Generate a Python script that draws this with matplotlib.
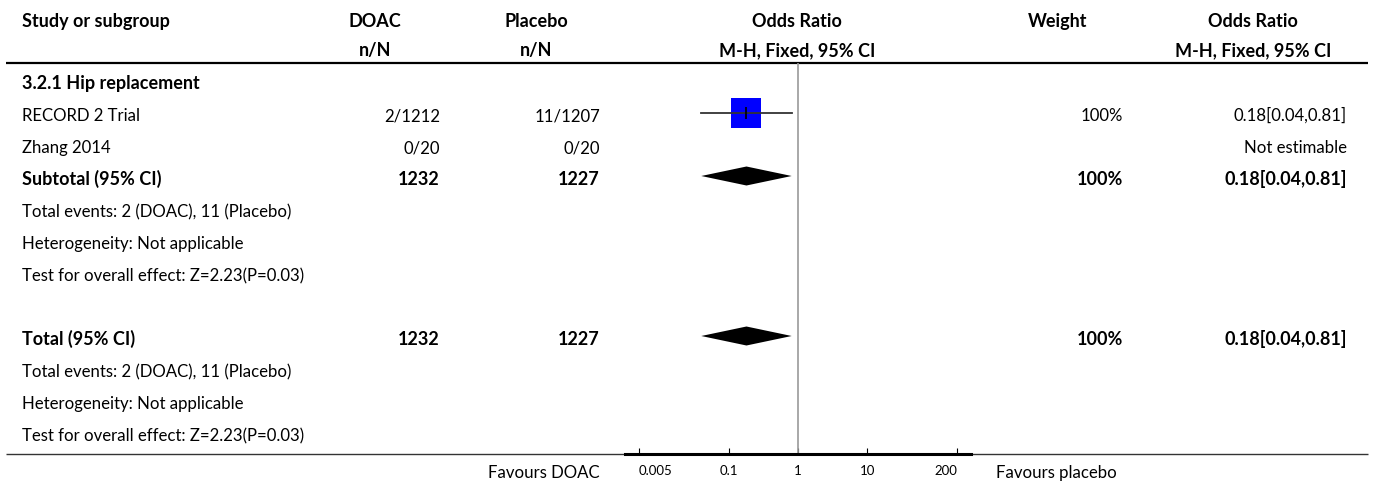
import matplotlib
matplotlib.use("Agg")
import matplotlib.pyplot as plt

plt.rcParams['font.family'] = ['Lato', 'DejaVu Sans']

# ---- data -------------------------------------------------------------
header_top = ["Study or subgroup", "DOAC", "Placebo", "Odds Ratio", "Weight", "Odds Ratio"]
header_sub = ["", "n/N", "n/N", "M-H, Fixed, 95% CI", "", "M-H, Fixed, 95% CI"]

subgroup_title = "3.2.1 Hip replacement"
study_names = ["RECORD 2 Trial", "Zhang 2014"]
doac_events = [2, 0]
doac_totals = [1212, 20]
placebo_events = [11, 0]
placebo_totals = [1207, 20]
study_weight = [100, None]
study_or = [0.18, None]
study_lo = [0.04, None]
study_hi = [0.81, None]

pooled_label = ["Subtotal (95% CI)", "Total (95% CI)"]
pooled_doac_total = [1232, 1232]
pooled_placebo_total = [1227, 1227]
pooled_weight = [100, 100]
pooled_or = [0.18, 0.18]
pooled_lo = [0.04, 0.04]
pooled_hi = [0.81, 0.81]

summary_lines = [
    "Total events: 2 (DOAC), 11 (Placebo)",
    "Heterogeneity: Not applicable",
    "Test for overall effect: Z=2.23(P=0.03)",
]

axis_ticks = [0.005, 0.1, 1, 10, 200]
axis_tick_labels = ["0.005", "0.1", "1", "10", "200"]
favours_left = "Favours DOAC"
favours_right = "Favours placebo"

# ---- layout (pixel units) --------------------------------------------
W, H = 1375, 483
FS = 12.1
FS_B = 13.0
fig = plt.figure(figsize=(W / 100, H / 100), dpi=100)
ax = fig.add_axes([0, 0, 1, 1])
ax.set_xlim(0, W)
ax.set_ylim(H, 0)
ax.axis('off')

X_NAME = 22
X_DOAC_HEAD, X_DOAC = 375, 440
X_PLAC_HEAD, X_PLAC = 536, 600
X_OR = 797
X_WHEAD, X_WEIGHT = 1058, 1123
X_ORHEAD, X_ORTXT = 1253, 1347

PLOT_L, PLOT_R = 625, 971
RULE_TOP, RULE_BOT = 63, 454
ROW = 32


def txt(x, base, s, ha='left', bold=False, size=None):
    if size is None:
        size = FS_B if bold else FS
    ax.text(x, base, s, ha=ha, va='baseline', fontsize=size,
            fontweight='bold' if bold else 'normal', color='black')


# header
hx = [X_NAME, X_DOAC_HEAD, X_PLAC_HEAD, X_OR, X_WHEAD, X_ORHEAD]
has = ['left', 'center', 'center', 'center', 'center', 'center']
for x, ha, t1, t2 in zip(hx, has, header_top, header_sub):
    txt(x, 27, t1, ha=ha, bold=True)
    if t2:
        txt(x, 56, t2, ha=ha, bold=True)
ax.plot([6, 1368], [RULE_TOP, RULE_TOP], color='black', lw=1.6, solid_capstyle='butt')
ax.plot([6, 1368], [RULE_BOT, RULE_BOT], color='#333333', lw=1.0, solid_capstyle='butt')

# forest panel
fx = fig.add_axes([PLOT_L / W, (H - RULE_BOT) / H, (PLOT_R - PLOT_L) / W,
                   (RULE_BOT - RULE_TOP) / H])
fx.set_xscale('log')
fx.set_xlim(10 ** -2.5, 10 ** 2.5)
fx.set_ylim(RULE_BOT, RULE_TOP)
fx.patch.set_alpha(0)
for side in ('top', 'left', 'right'):
    fx.spines[side].set_visible(False)
fx.spines['bottom'].set_linewidth(2.2)
fx.set_yticks([])
fx.set_xticks(axis_ticks)
fx.set_xticklabels(axis_tick_labels)
fx.minorticks_off()
fx.tick_params(axis='x', direction='in', length=4, width=0.8, pad=8, labelsize=9.5)
labels = fx.get_xticklabels()
labels[0].set_horizontalalignment('left')
labels[-1].set_horizontalalignment('right')
fx.axvline(1, color='#999999', lw=1.2)


def pooled_diamond(y, orv, lo, hi):
    h = 9.5
    fx.fill([lo, orv, hi, orv], [y, y - h, y, y + h], color='black', lw=0)


# subgroup rows (y values are row centres)
y_title = 83
txt(X_NAME, y_title + 6, subgroup_title, bold=True)
for i in range(len(study_names)):
    yc = y_title + ROW * (i + 1)
    yb = yc + 6
    txt(X_NAME, yb, study_names[i])
    txt(X_DOAC, yb, f"{doac_events[i]}/{doac_totals[i]}", ha='right')
    txt(X_PLAC, yb, f"{placebo_events[i]}/{placebo_totals[i]}", ha='right')
    if study_or[i] is not None:
        txt(X_WEIGHT, yb, f"{study_weight[i]}%", ha='right')
        txt(X_ORTXT, yb, f"{study_or[i]:.2f}[{study_lo[i]:.2f},{study_hi[i]:.2f}]", ha='right')
        my = yc - 2
        fx.plot([study_or[i]], [my], marker='s', ms=22.3 * study_weight[i] / 100,
                color='#0000FF', mec='#0000FF', mew=0, zorder=2)
        fx.plot([study_lo[i], study_hi[i]], [my, my], color='#333333', lw=1.3, zorder=3)
        fx.plot([study_or[i]], [my], marker='|', ms=8, mew=1.2, color='black', zorder=4)
    else:
        txt(X_ORTXT, yb, "Not estimable", ha='right')

block_centres = [y_title + ROW * 3, y_title + ROW * 8]
for k, yc in enumerate(block_centres):
    yb = yc + 6
    txt(X_NAME, yb, pooled_label[k], bold=True)
    txt(X_DOAC, yb, f"{pooled_doac_total[k]}", ha='right', bold=True)
    txt(X_PLAC, yb, f"{pooled_placebo_total[k]}", ha='right', bold=True)
    txt(X_WEIGHT, yb, f"{pooled_weight[k]}%", ha='right', bold=True)
    txt(X_ORTXT, yb, f"{pooled_or[k]:.2f}[{pooled_lo[k]:.2f},{pooled_hi[k]:.2f}]",
        ha='right', bold=True)
    pooled_diamond(yc - 3, pooled_or[k], pooled_lo[k], pooled_hi[k])
    for j, line in enumerate(summary_lines):
        txt(X_NAME, yb + ROW * (j + 1), line)

txt(600, 478, favours_left, ha='right')
txt(996, 478, favours_right, ha='left')

fig.savefig("out.png", dpi=100)
